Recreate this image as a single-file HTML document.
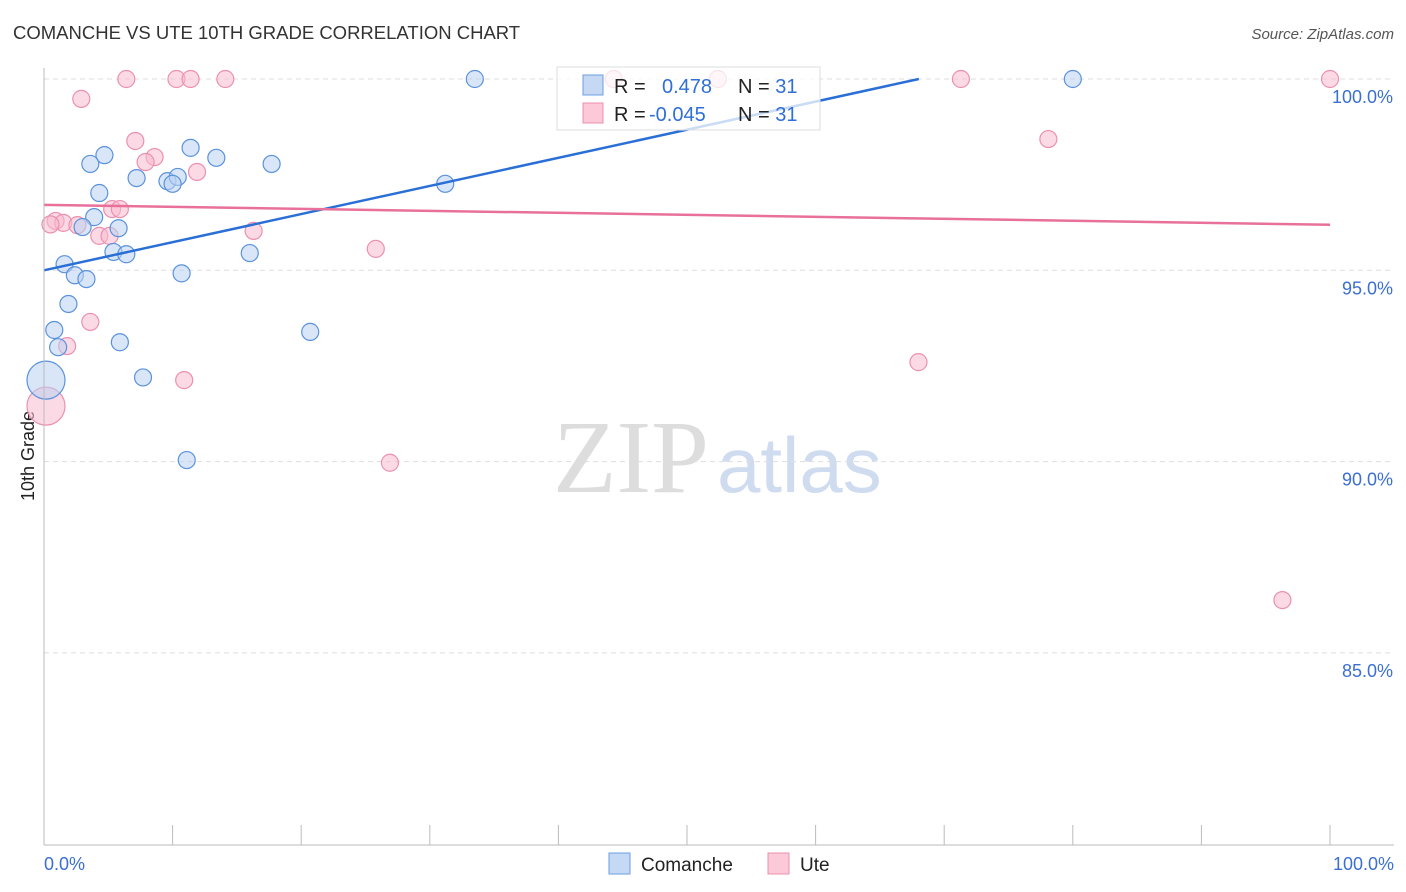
<!DOCTYPE html>
<html><head><meta charset="utf-8"><style>
body{margin:0;background:#fff;font-family:"Liberation Sans",sans-serif}
#c{position:relative;width:1406px;height:892px;overflow:hidden}
</style></head><body>
<div id="c">
<svg id="s" width="1406" height="892" xmlns="http://www.w3.org/2000/svg">
<text x="13" y="39" font-size="18.5" fill="#333">COMANCHE VS UTE 10TH GRADE CORRELATION CHART</text>
<text x="1394" y="39" font-size="15" fill="#555" font-style="italic" text-anchor="end">Source: ZipAtlas.com</text>
<text x="553" y="492" font-size="104" fill="#ddd" font-family="Liberation Serif,serif">ZIP</text>
<text x="717" y="492" font-size="78" fill="#cfdcf0">atlas</text>
<text transform="translate(34,456) rotate(-90)" font-size="18" fill="#222" text-anchor="middle">10th Grade</text>
<g id="grid"></g><g id="marks"></g>
<line x1="44" y1="68" x2="44" y2="845" stroke="#bbb"/>
<line x1="44" y1="845" x2="1394" y2="845" stroke="#bbb"/>
<text x="44" y="870" font-size="18" fill="#3b6fd0">0.0%</text>
<text x="1394" y="870" font-size="18" fill="#3b6fd0" text-anchor="end">100.0%</text>
<g>
<rect x="557" y="67" width="263" height="63" fill="#fff" fill-opacity="0.75" stroke="#ddd"/>
<rect x="583" y="75" width="20" height="20" fill="#c5d9f5" stroke="#6c9fe0"/>
<rect x="583" y="103" width="20" height="20" fill="#fbc9d8" stroke="#ec90ae"/>
<text x="614" y="93" font-size="20" fill="#222">R = <tspan x="662" fill="#2f6fd6">0.478</tspan><tspan x="738" fill="#222">N = </tspan><tspan fill="#2f6fd6">31</tspan></text>
<text x="614" y="121" font-size="20" fill="#222">R = <tspan x="649" fill="#2f6fd6">-0.045</tspan><tspan x="738" fill="#222">N = </tspan><tspan fill="#2f6fd6">31</tspan></text>
</g>
<g>
<rect x="609" y="853" width="21" height="21" fill="#c5d9f5" stroke="#6c9fe0"/>
<text x="641" y="871" font-size="19" fill="#222">Comanche</text>
<rect x="768" y="853" width="21" height="21" fill="#fbc9d8" stroke="#ec90ae"/>
<text x="800" y="871" font-size="19" fill="#222">Ute</text>
</g>
</svg></div>
<script>
const yTicks=[100,95,90,85];
const yTickLabels=["100.0%","95.0%","90.0%","85.0%"];
const comancheX=[33.5,80.0,4.7,3.6,11.4,13.4,17.7,7.2,9.6,10.4,10.0,31.2,4.3,3.9,3.0,5.8,5.4,6.4,16.0,1.6,2.4,3.3,10.7,1.9,0.8,20.7,1.1,5.9,7.7,0,11.1];
const comancheY=[100,100,98.01,97.78,98.2,97.94,97.78,97.41,97.33,97.44,97.26,97.26,97.02,96.39,96.13,96.1,95.48,95.42,95.45,95.16,94.87,94.77,94.92,94.12,93.44,93.39,92.99,93.12,92.2,92.13,90.04];
const uteX=[6.4,10.3,11.4,14.1,44.3,52.4,71.3,100,2.9,7.1,8.6,7.9,11.9,78.1,5.3,5.9,0.9,1.5,2.6,4.3,5.1,16.3,25.8,3.6,1.8,10.9,68.0,0,26.9,96.3,0.5];
const uteY=[100,100,100,100,100,100,100,100,99.48,98.38,97.96,97.83,97.57,98.43,96.6,96.6,96.29,96.24,96.18,95.9,95.9,96.03,95.56,93.65,93.02,92.13,92.6,91.45,89.97,86.38,96.2];
const comancheTrend=[95.0,0.0735];
const uteTrend=[96.71,-0.0052];
const sx=v=>44+v*12.86, sy=v=>79+(100-v)*38.26;
const NS="http://www.w3.org/2000/svg";
const grid=document.getElementById('grid'),marks=document.getElementById('marks'),svg=document.getElementById('s');
function mk(t,a,p){const e=document.createElementNS(NS,t);for(const k in a)e.setAttribute(k,a[k]);(p||marks).appendChild(e);return e;}
yTicks.forEach((t,i)=>{
 const l=mk('line',{x1:44,x2:1394,y1:sy(t),y2:sy(t),stroke:'#ddd','stroke-dasharray':'5,4'},grid);
 
 
 const tx=mk('text',{x:1393,y:sy(t)+24,'font-size':18,fill:'#3b6fd0','text-anchor':'end'},svg);
 tx.textContent=yTickLabels[i];
 
 
});
for(let k=0;k<=10;k++){
 const l=mk('line',{x1:sx(k*10),x2:sx(k*10),y1:825,y2:845,stroke:'#bbb'},grid);
 
 
}
function dots(X,Y,fill,stroke,name){
 X.forEach((x,i)=>{
  const big=(x===0);
  const c=mk('circle',{cx:sx(x)+(big?2:0),cy:sy(Y[i]),r:big?19:8.5,fill:fill,'fill-opacity':0.55,stroke:stroke,'stroke-width':1.2});
  
  
 });
}
dots(uteX,uteY,'#f8bcd0','#ec90ae','ute-point');
dots(comancheX,comancheY,'#b9d2f3','#5b92dd','comanche-point');
let xe=(100-comancheTrend[0])/comancheTrend[1];
let l1=mk('line',{x1:sx(0),y1:sy(comancheTrend[0]),x2:sx(xe),y2:sy(100),stroke:'#2a6fd6','stroke-width':2.5});


let l2=mk('line',{x1:sx(0),y1:sy(uteTrend[0]),x2:sx(100),y2:sy(uteTrend[0]+uteTrend[1]*100),stroke:'#e8709a','stroke-width':2.5});


</script>
</body></html>
